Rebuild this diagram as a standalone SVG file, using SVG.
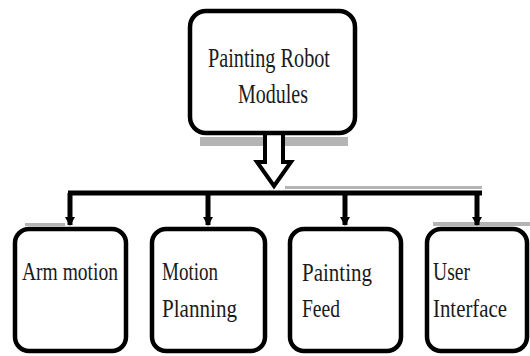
<svg xmlns="http://www.w3.org/2000/svg" width="530" height="356" viewBox="0 0 530 356">
<defs>
<style>
.box{fill:#fff;stroke:#000;stroke-width:4.5}
.shadow{fill:#b4b4b4}
.t{font-family:"Liberation Serif","Times New Roman",serif;fill:#1a1a1a}
.big{font-size:28px}
.small{font-size:25px}
.conn{stroke:#000;stroke-width:5;fill:none}
</style>
<marker id="ah" markerWidth="10" markerHeight="10" refX="8" refY="5" orient="auto" markerUnits="userSpaceOnUse">
<path d="M0,0 L9,5 L0,10 z" fill="#000"/>
</marker>
</defs>
<rect width="530" height="356" fill="#fff"/>
<g id="shadows">
<rect class="shadow" x="200" y="137" width="148" height="9"/>
<rect class="shadow" x="285" y="186" width="197" height="3"/>
<rect class="shadow" x="433" y="222" width="97" height="4"/>
<rect class="shadow" x="25" y="223" width="40" height="3"/>
</g>
<g id="connectors">
<path class="conn" d="M68,193 H482"/>
<path class="conn" d="M70,193 V225" marker-end="url(#ah)"/>
<path class="conn" d="M208,193 V225" marker-end="url(#ah)"/>
<path class="conn" d="M345,193 V225" marker-end="url(#ah)"/>
<path class="conn" d="M477,193 V225" marker-end="url(#ah)"/>
<path d="M265,134 V162 H257 L274,186 L291,162 H283 V134" fill="#fff" stroke="#000" stroke-width="4" stroke-linejoin="miter"/>
</g>
<g id="root">
<rect class="box" x="190" y="11" width="165" height="122" rx="16"/>
<text class="t big" x="208" y="67" textLength="122" lengthAdjust="spacingAndGlyphs">Painting Robot</text>
<text class="t big" x="238" y="103" textLength="70" lengthAdjust="spacingAndGlyphs">Modules</text>
</g>
<g id="arm">
<rect class="box" x="15" y="229" width="111" height="122" rx="14"/>
<text class="t small" x="22" y="280" textLength="96" lengthAdjust="spacingAndGlyphs">Arm motion</text>
</g>
<g id="planning">
<rect class="box" x="152" y="229" width="113" height="122" rx="14"/>
<text class="t small" x="162" y="280" textLength="56" lengthAdjust="spacingAndGlyphs">Motion</text>
<text class="t small" x="162" y="317" textLength="75" lengthAdjust="spacingAndGlyphs">Planning</text>
</g>
<g id="feed">
<rect class="box" x="290" y="229" width="111" height="122" rx="14"/>
<text class="t small" x="302" y="281" textLength="70" lengthAdjust="spacingAndGlyphs">Painting</text>
<text class="t small" x="302" y="317" textLength="38" lengthAdjust="spacingAndGlyphs">Feed</text>
</g>
<g id="ui">
<rect class="box" x="427" y="229" width="100" height="122" rx="14"/>
<text class="t small" x="433" y="280" textLength="37" lengthAdjust="spacingAndGlyphs">User</text>
<text class="t small" x="433" y="317" textLength="74" lengthAdjust="spacingAndGlyphs">Interface</text>
</g>
</svg>
